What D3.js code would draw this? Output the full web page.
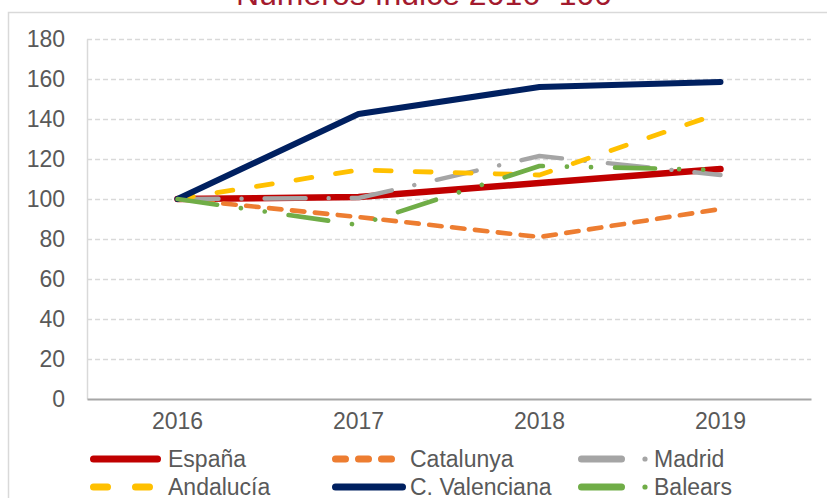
<!DOCTYPE html>
<html>
<head>
<meta charset="utf-8">
<script src="https://cdn.jsdelivr.net/npm/d3@7"></script>
<style>
  body { margin: 0; background: #fff; }
  svg { display: block; font-family: "Liberation Sans", Arial, sans-serif; }
</style>
</head>
<body>
<div id="chart"></div>
<script>
// Data
var years = ['2016', '2017', '2018', '2019'];
var seriesNames = ['España', 'Catalunya', 'Madrid', 'Andalucía', 'C. Valenciana', 'Balears'];
var espana = [100, 101, 108, 115];
var catalunya = [100, 91, 81, 95];
var madrid = [100, 100.5, 121.5, 112];
var andalucia = [100, 114.5, 112, 143];
var valenciana = [100, 142.5, 156, 158.5];
var balears = [100, 87, 116.5, 114.5];
var yTicks = [0, 20, 40, 60, 80, 100, 120, 140, 160, 180];

var seriesValues = [espana, catalunya, madrid, andalucia, valenciana, balears];

// Styles per series
var colors = ['#c00000', '#ed7d31', '#a5a5a5', '#ffc000', '#002060', '#70ad47'];
var widths = [6.5, 4.6, 4.4, 4.8, 6, 4.6];
var dashes = [null, '12.5,10.5', '41,23,0.1,23', '16,24', null, '40,24,0.1,24,0.1,24'];

// Size variables
var W = 827, H = 498;
var margin = { left: 87, right: 16, top: 39, bottom: 99 };
var width = W - margin.left - margin.right;
var height = H - margin.top - margin.bottom;

var svg = d3.select('#chart')
  .append('svg')
  .attr('width', W)
  .attr('height', H);

// Chart border
svg.append('rect')
  .attr('x', 8.5)
  .attr('y', 12.5)
  .attr('width', W + 10)
  .attr('height', H + 10)
  .attr('fill', 'none')
  .attr('stroke', '#d9d9d9')
  .attr('stroke-width', 1.5);

// Title
svg.append('text')
  .attr('x', 424)
  .attr('y', 5)
  .attr('text-anchor', 'middle')
  .style('font-size', '32px')
  .style('fill', '#a31a2e')
  .text('Números índice 2016=100');

var g = svg.append('g')
  .attr('transform', `translate(${margin.left}, ${margin.top})`);

// Scales
var xScale = d3.scaleBand()
  .domain(years)
  .range([0, width]);

var yScale = d3.scaleLinear()
  .domain([0, 180])
  .range([height, 0]);

// Gridlines
g.selectAll('.grid')
  .data(yTicks.filter((d) => d > 0))
  .enter().append('line')
  .attr('class', 'grid')
  .attr('x1', 0)
  .attr('x2', width)
  .attr('y1', (d) => Math.round(yScale(d)) + 0.5)
  .attr('y2', (d) => Math.round(yScale(d)) + 0.5)
  .attr('stroke', '#d9d9d9')
  .attr('stroke-width', 1.5)
  .attr('stroke-dasharray', '5,3');

// Y Axis
var yAxis = d3.axisLeft(yScale).tickValues(yTicks).tickSize(0).tickPadding(22);
var yG = g.append('g').call(yAxis);
yG.select('.domain').attr('stroke', '#d9d9d9').attr('stroke-width', 1.5);
yG.selectAll('text')
  .style('font-size', '23px')
  .style('fill', '#595959')
  .style('font-family', '"Liberation Sans", Arial, sans-serif');

// X Axis
var xAxis = d3.axisBottom(xScale).tickSize(0).tickPadding(14);
var xG = g.append('g')
  .attr('transform', `translate(0, ${height})`)
  .call(xAxis);
xG.select('.domain').attr('stroke', '#a6a6a6').attr('stroke-width', 2);
xG.selectAll('text')
  .style('font-size', '23px')
  .style('fill', '#595959')
  .style('font-family', '"Liberation Sans", Arial, sans-serif');

// Lines
var line = d3.line()
  .x((d, i) => xScale(years[i]) + xScale.bandwidth() / 2)
  .y((d) => yScale(d));

seriesValues.forEach((vals, i) => {
  g.append('path')
    .datum(vals)
    .attr('d', line)
    .attr('fill', 'none')
    .attr('stroke', colors[i])
    .attr('stroke-width', widths[i])
    .attr('stroke-linecap', 'round')
    .attr('stroke-linejoin', 'round')
    .attr('stroke-dasharray', dashes[i]);
});

// Legend
var legCols = [90, 332, 578];
var legRows = [459, 487];
var swatchLen = [71, 66, 47, 63, 74, 47];
var legDash = [null, '10,13', null, '14,28', null, null];

var legend = svg.selectAll('.legend')
  .data(seriesNames)
  .enter().append('g')
  .attr('class', 'legend')
  .attr('transform', (d, i) => `translate(${legCols[i % 3]}, ${legRows[Math.floor(i / 3)]})`);

legend.append('line')
  .attr('x1', 3.5)
  .attr('x2', (d, i) => swatchLen[i] - 3.5)
  .attr('y1', 0)
  .attr('y2', 0)
  .attr('stroke', (d, i) => colors[i])
  .attr('stroke-width', 7)
  .attr('stroke-linecap', 'round')
  .attr('stroke-dasharray', (d, i) => legDash[i]);

// Dot of the dash-dot swatches
legend.filter((d, i) => i % 3 === 2)
  .append('circle')
  .attr('cx', 67)
  .attr('cy', 0)
  .attr('r', 2.6)
  .attr('fill', (d) => colors[seriesNames.indexOf(d)]);

legend.append('text')
  .attr('x', (d, i) => (i % 3 === 2 ? 76 : 78))
  .attr('y', 0)
  .attr('dy', '0.35em')
  .style('font-size', '23px')
  .style('fill', '#595959')
  .text((d) => d);
</script>
</body>
</html>
